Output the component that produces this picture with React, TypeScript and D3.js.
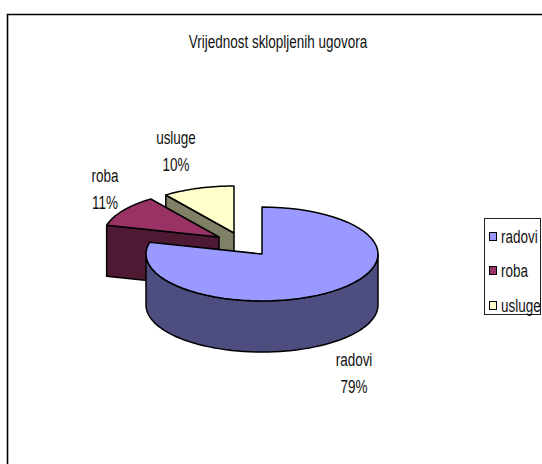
import React from "react";
import * as d3 from "d3";

const categories = ["radovi", "roba", "usluge"];
const shares = [79, 11, 10];

const topColors = ["#9999ff", "#993366", "#ffffcc"];
const sideColors = ["#4d4d80", "#4d1933", "#808066"];

const width = 542;
const height = 464;
const rx = 116;
const ry = 47;
const depth = 51;

// where each slice's apex sits once exploded
const centers: [number, number][] = [
  [262, 254],
  [219, 237],
  [234, 233],
];
const labelPos: [number, number][] = [
  [354, 366],
  [105, 182],
  [176, 144],
];
const legendRows = [237, 271, 306];

const font = "'Liberation Sans', Arial, sans-serif";
const fontSize = 19;
const squeeze = 0.71; // the original text is horizontally condensed

const slices = d3.pie<number>().sort(null)(shares);

const line = d3.line<[number, number]>();

// point on the tilted rim, angle clockwise from 12 o'clock
const rim = (a: number, dy = 0): [number, number] => [
  rx * Math.sin(a),
  -ry * Math.cos(a) + dy,
];

const samples = (a0: number, a1: number) =>
  d3.range(0, 61).map((i) => a0 + ((a1 - a0) * i) / 60);

function topPath(s: d3.PieArcDatum<number>) {
  const pts = samples(s.startAngle, s.endAngle).map((a) => rim(a));
  return line([[0, 0], ...pts]) + "Z";
}

// front wall of the big slice, only the half facing the viewer
function wallPath(s: d3.PieArcDatum<number>) {
  const a0 = Math.max(s.startAngle, Math.PI / 2);
  const a1 = Math.min(s.endAngle, (3 * Math.PI) / 2);
  if (a1 <= a0) return null;
  const upper = samples(a0, a1).map((a) => rim(a));
  const lower = samples(a1, a0).map((a) => rim(a, depth));
  return line([...upper, ...lower]) + "Z";
}

// flat cut face running from the rim to the apex, extruded downward
function cutPath(s: d3.PieArcDatum<number>) {
  const p = rim(s.startAngle);
  return line([p, [0, 0], [0, depth], [p[0], p[1] + depth]]) + "Z";
}

const Label = ({ x, y, anchor = "middle", children }: any) => (
  <text
    transform={`translate(${x},${y}) scale(${squeeze},1)`}
    textAnchor={anchor}
    fontSize={fontSize}
    fill="#111"
  >
    {children}
  </text>
);

export default function App() {
  const order = [2, 1, 0];
  return (
    <svg
      width={width}
      height={height}
      style={{ position: "absolute", left: 0, top: 0, background: "#fff" }}
      fontFamily={font}
    >
      <path
        d={`M7.5,${height}V14.5H${width}`}
        fill="none"
        stroke="#000"
        strokeWidth={1.6}
      />
      <Label x={278} y={48}>Vrijednost sklopljenih ugovora</Label>

      {order.map((i) => {
        const s = slices[i];
        const [cx, cy] = centers[i];
        const wall = wallPath(s);
        return (
          <g
            key={categories[i]}
            transform={`translate(${cx},${cy})`}
            stroke="#000"
            strokeWidth={1.5}
            strokeLinejoin="round"
          >
            {i !== 0 && <path d={cutPath(s)} fill={sideColors[i]} />}
            {wall && <path d={wall} fill={sideColors[i]} />}
            <path d={topPath(s)} fill={topColors[i]} />
          </g>
        );
      })}

      {categories.map((c, i) => (
        <g key={c}>
          <Label x={labelPos[i][0]} y={labelPos[i][1]}>{c}</Label>
          <Label x={labelPos[i][0]} y={labelPos[i][1] + 27}>{shares[i]}%</Label>
        </g>
      ))}

      <rect x={484.5} y={218.5} width={56} height={96} fill="#fff" stroke="#222" strokeWidth={1} />
      {categories.map((c, i) => (
        <g key={c}>
          <rect
            x={489.5}
            y={legendRows[i] - 4.5}
            width={7}
            height={8}
            fill={topColors[i]}
            stroke="#000"
            strokeWidth={1}
          />
          <Label x={501} y={legendRows[i] + 6} anchor="start">{c}</Label>
        </g>
      ))}
    </svg>
  );
}
